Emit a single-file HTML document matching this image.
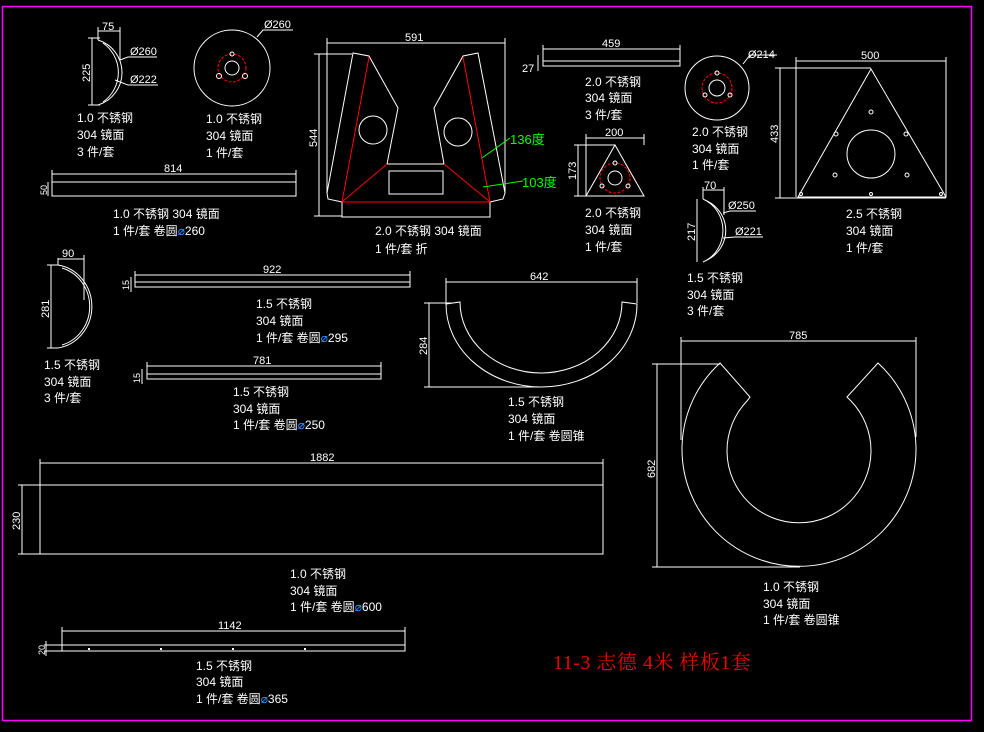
<!DOCTYPE html>
<html><head><meta charset="utf-8"><style>
html,body{margin:0;padding:0;background:#000;width:984px;height:732px;overflow:hidden}
svg{display:block}
text{font-family:"Liberation Sans","Noto Sans CJK SC",sans-serif;fill:#fff;font-size:12px}
.d{font-size:11px}
</style></head><body>
<svg width="984" height="732" viewBox="0 0 984 732" xmlns="http://www.w3.org/2000/svg">
<rect x="2.5" y="6.5" width="969" height="714" fill="none" stroke="#f0f" stroke-width="1.5"/>
<g fill="none" stroke="#fff" stroke-width="1">
<path d="M98,40 A34,34 0 0 1 98,105"/><path d="M103,43 A36,36 0 0 1 103,102"/>
<line x1="98" y1="27" x2="98" y2="40"/><line x1="120" y1="27" x2="120" y2="60"/><line x1="98" y1="31" x2="120" y2="31"/>
<line x1="92" y1="38" x2="92" y2="105"/><line x1="88" y1="38" x2="100" y2="38"/><line x1="88" y1="105" x2="100" y2="105"/>
<polyline points="120,60 128,57 157,57"/><polyline points="115,80 128,85 158,85"/>
<circle cx="232" cy="68" r="38"/><circle cx="232" cy="68" r="7"/>
<polyline points="257,37 263,30 293,30"/>
<rect x="52" y="182" width="244" height="14"/>
<line x1="52" y1="174" x2="296" y2="174"/><line x1="52" y1="170" x2="52" y2="182"/><line x1="296" y1="170" x2="296" y2="182"/>
<line x1="48" y1="182" x2="48" y2="196"/>
<polyline points="342,202 328,199 327,193 353,53 369,56 398,108 387,164 444,164 434,108 463,56 478,53 505,193 503,199 490,202"/>
<rect x="342" y="202" width="148" height="15"/>
<circle cx="373" cy="130" r="14"/><circle cx="458" cy="132" r="14"/>
<rect x="389" y="171" width="54" height="23"/>
<line x1="327" y1="43" x2="505" y2="43"/><line x1="327" y1="38" x2="327" y2="193"/><line x1="505" y1="38" x2="505" y2="193"/>
<line x1="319" y1="54" x2="319" y2="216"/><line x1="314" y1="54" x2="352" y2="54"/><line x1="314" y1="216" x2="342" y2="216"/>
<rect x="543" y="61" width="137" height="5"/>
<line x1="543" y1="49" x2="680" y2="49"/><line x1="543" y1="45" x2="543" y2="61"/><line x1="680" y1="45" x2="680" y2="61"/>
<line x1="538" y1="55" x2="538" y2="71"/>
<circle cx="717" cy="88" r="32"/><circle cx="717" cy="88" r="8"/>
<polyline points="743,64 750,55 777,55"/>
<polygon points="615,145 586,196 644,196"/><circle cx="615" cy="178" r="7"/>
<line x1="586" y1="138" x2="644" y2="138"/><line x1="586" y1="134" x2="586" y2="196"/><line x1="644" y1="134" x2="644" y2="145"/>
<line x1="578" y1="145" x2="578" y2="196"/><line x1="574" y1="145" x2="615" y2="145"/><line x1="574" y1="196" x2="586" y2="196"/>
<polygon points="871,69 798,197 946,197"/><circle cx="871" cy="154" r="24"/>
<circle cx="871" cy="112" r="2"/><circle cx="836" cy="134" r="2"/><circle cx="906" cy="134" r="2"/><circle cx="835" cy="175" r="2"/><circle cx="907" cy="175" r="2"/><circle cx="871" cy="194" r="1.5"/><circle cx="801" cy="194" r="1.5"/><circle cx="941" cy="194" r="1.5"/>
<line x1="796" y1="61" x2="946" y2="61"/><line x1="796" y1="57" x2="796" y2="197"/><line x1="946" y1="57" x2="946" y2="197"/>
<line x1="780" y1="68" x2="780" y2="198"/><line x1="775" y1="68" x2="871" y2="68"/><line x1="775" y1="198" x2="946" y2="198"/>
<path d="M703,199 A32,34 0 0 1 703,262"/><path d="M707,201 A34,33 0 0 1 707,260"/>
<line x1="703" y1="187" x2="703" y2="199"/><line x1="724" y1="187" x2="724" y2="215"/><line x1="703" y1="190" x2="724" y2="190"/>
<line x1="697" y1="199" x2="697" y2="262"/>
<polyline points="723,213 730,211 756,211"/><polyline points="723,238 735,237 763,237"/>
<path d="M58,265 A40,42 0 0 1 58,348"/><path d="M62,268 A38,40 0 0 1 62,345"/>
<line x1="58" y1="258" x2="58" y2="265"/><line x1="84" y1="255" x2="84" y2="300"/><line x1="58" y1="259" x2="84" y2="259"/>
<line x1="51" y1="265" x2="51" y2="348"/><line x1="47" y1="265" x2="58" y2="265"/><line x1="47" y1="348" x2="58" y2="348"/>
<rect x="135" y="282" width="275" height="5"/>
<line x1="135" y1="275" x2="410" y2="275"/><line x1="135" y1="271" x2="135" y2="282"/><line x1="410" y1="271" x2="410" y2="282"/>
<line x1="131" y1="277" x2="131" y2="292"/>
<rect x="147" y="374" width="234" height="5"/>
<line x1="147" y1="366" x2="381" y2="366"/><line x1="147" y1="362" x2="147" y2="374"/><line x1="381" y1="362" x2="381" y2="374"/>
<line x1="142" y1="369" x2="142" y2="384"/>
<path d="M446,304 L460,302 A81,71 0 0 0 622,302 L637,304 A95.5,83 0 0 1 446,304 Z"/>
<line x1="446" y1="282" x2="637" y2="282"/><line x1="446" y1="278" x2="446" y2="303"/><line x1="637" y1="278" x2="637" y2="303"/>
<line x1="429" y1="303" x2="429" y2="387"/><line x1="424" y1="303" x2="452" y2="303"/><line x1="424" y1="387" x2="540" y2="387"/>
<path d="M720,363 A117,117 0 1 0 878,363 L847,397 L851,401 A72,72 0 1 1 747,401 L750,397 Z"/>
<line x1="681" y1="341" x2="916" y2="341"/><line x1="681" y1="337" x2="681" y2="440"/><line x1="916" y1="337" x2="916" y2="437"/>
<line x1="657" y1="364" x2="657" y2="567"/><line x1="652" y1="364" x2="720" y2="364"/><line x1="652" y1="567" x2="800" y2="567"/>
<rect x="40" y="485" width="563" height="69"/>
<line x1="40" y1="463" x2="603" y2="463"/><line x1="40" y1="459" x2="40" y2="485"/><line x1="603" y1="459" x2="603" y2="485"/>
<line x1="22" y1="485" x2="22" y2="554"/><line x1="18" y1="485" x2="40" y2="485"/><line x1="18" y1="554" x2="40" y2="554"/>
<rect x="62" y="645" width="343" height="6"/>
<line x1="62" y1="631" x2="405" y2="631"/><line x1="62" y1="627" x2="62" y2="645"/><line x1="405" y1="627" x2="405" y2="645"/>
<line x1="46" y1="641" x2="46" y2="656"/><line x1="44" y1="645" x2="62" y2="645"/><line x1="44" y1="651" x2="62" y2="651"/>
</g>
<g fill="#fff"><rect x="88" y="648" width="2" height="2"/><rect x="160" y="648" width="2" height="2"/><rect x="232" y="648" width="2" height="2"/><rect x="304" y="648" width="2" height="2"/></g>
<g fill="none" stroke="#f00" stroke-width="1">
<circle cx="232" cy="68" r="14" stroke-dasharray="3,1.5"/>
<circle cx="615" cy="178" r="15" stroke-dasharray="3,1.5"/>
<circle cx="717" cy="88" r="15" stroke-dasharray="3,1.5"/>
<line x1="369" y1="57" x2="342" y2="202"/><line x1="387" y1="164" x2="342" y2="202"/>
<line x1="342" y1="202" x2="490" y2="202"/><line x1="444" y1="164" x2="490" y2="202"/><line x1="463" y1="57" x2="490" y2="202"/>
</g>
<g fill="none" stroke="#fff"><circle cx="232" cy="54" r="2"/><circle cx="219" cy="76" r="2.5"/><circle cx="245" cy="76" r="2.5"/>
<circle cx="615" cy="163" r="2"/><circle cx="602" cy="186" r="2"/><circle cx="628" cy="186" r="2"/>
<circle cx="717" cy="73" r="2"/><circle cx="705" cy="95" r="2"/><circle cx="730" cy="95" r="2"/></g>
<g stroke="#0f0" stroke-width="1"><line x1="482" y1="158" x2="510" y2="138"/><line x1="483" y1="187" x2="523" y2="181"/></g>
<text x="510" y="144" style="fill:#0f0;font-size:13px">136度</text>
<text x="522" y="187" style="fill:#0f0;font-size:13px">103度</text>
<text class="d" x="102" y="30">75</text>
<text class="d" x="130" y="55">Ø260</text><text class="d" x="130" y="83">Ø222</text>
<text class="d" transform="translate(90,82) rotate(-90)">225</text>
<text class="d" x="264" y="28">Ø260</text>
<text class="d" x="164" y="172">814</text>
<text class="d" style="font-size:9px" transform="translate(47,195) rotate(-90)">50</text>
<text class="d" x="405" y="41">591</text>
<text class="d" transform="translate(317,147) rotate(-90)">544</text>
<text class="d" x="602" y="47">459</text>
<text class="d" x="522" y="72">27</text>
<text class="d" x="748" y="58">Ø214</text>
<text class="d" x="605" y="136">200</text>
<text class="d" transform="translate(576,180) rotate(-90)">173</text>
<text class="d" x="861" y="59">500</text>
<text class="d" transform="translate(778,143) rotate(-90)">433</text>
<text class="d" x="704" y="189">70</text>
<text class="d" x="728" y="209">Ø250</text><text class="d" x="735" y="235">Ø221</text>
<text class="d" transform="translate(695,241) rotate(-90)">217</text>
<text class="d" x="62" y="257">90</text>
<text class="d" transform="translate(49,318) rotate(-90)">281</text>
<text class="d" x="263" y="273">922</text>
<text class="d" style="font-size:9px" transform="translate(129,290) rotate(-90)">15</text>
<text class="d" x="253" y="364">781</text>
<text class="d" style="font-size:9px" transform="translate(140,383) rotate(-90)">15</text>
<text class="d" x="530" y="280">642</text>
<text class="d" transform="translate(427,355) rotate(-90)">284</text>
<text class="d" x="789" y="339">785</text>
<text class="d" transform="translate(655,478) rotate(-90)">682</text>
<text class="d" x="310" y="461">1882</text>
<text class="d" transform="translate(20,530) rotate(-90)">230</text>
<text class="d" x="218" y="629">1142</text>
<text class="d" style="font-size:9px" transform="translate(45,655) rotate(-90)">20</text>
<text x="77" y="122">1.0 不锈钢</text><text x="77" y="139">304 镜面</text><text x="77" y="156">3 件/套</text>
<text x="206" y="123">1.0 不锈钢</text><text x="206" y="140">304 镜面</text><text x="206" y="157">1 件/套</text>
<text x="113" y="218">1.0 不锈钢 304 镜面</text><text x="113" y="235">1 件/套 卷圆<tspan style="fill:#39f">⌀</tspan>260</text>
<text x="375" y="235">2.0 不锈钢 304 镜面</text><text x="375" y="253">1 件/套 折</text>
<text x="585" y="86">2.0 不锈钢</text><text x="585" y="102">304 镜面</text><text x="585" y="119">3 件/套</text>
<text x="692" y="136">2.0 不锈钢</text><text x="692" y="153">304 镜面</text><text x="692" y="169">1 件/套</text>
<text x="585" y="217">2.0 不锈钢</text><text x="585" y="234">304 镜面</text><text x="585" y="251">1 件/套</text>
<text x="846" y="218">2.5 不锈钢</text><text x="846" y="235">304 镜面</text><text x="846" y="252">1 件/套</text>
<text x="687" y="282">1.5 不锈钢</text><text x="687" y="299">304 镜面</text><text x="687" y="315">3 件/套</text>
<text x="44" y="369">1.5 不锈钢</text><text x="44" y="386">304 镜面</text><text x="44" y="402">3 件/套</text>
<text x="256" y="308">1.5 不锈钢</text><text x="256" y="325">304 镜面</text><text x="256" y="342">1 件/套 卷圆<tspan style="fill:#39f">⌀</tspan>295</text>
<text x="233" y="396">1.5 不锈钢</text><text x="233" y="413">304 镜面</text><text x="233" y="429">1 件/套 卷圆<tspan style="fill:#39f">⌀</tspan>250</text>
<text x="508" y="406">1.5 不锈钢</text><text x="508" y="423">304 镜面</text><text x="508" y="440">1 件/套 卷圆锥</text>
<text x="290" y="578">1.0 不锈钢</text><text x="290" y="595">304 镜面</text><text x="290" y="611">1 件/套 卷圆<tspan style="fill:#39f">⌀</tspan>600</text>
<text x="763" y="591">1.0 不锈钢</text><text x="763" y="608">304 镜面</text><text x="763" y="624">1 件/套 卷圆锥</text>
<text x="196" y="670">1.5 不锈钢</text><text x="196" y="686">304 镜面</text><text x="196" y="703">1 件/套 卷圆<tspan style="fill:#39f">⌀</tspan>365</text>
<text x="553" y="669" style="fill:#e00;font-size:20px;letter-spacing:0.5px;font-family:'Liberation Serif','Noto Serif CJK SC',serif">11-3 志德 4米 样板1套</text>
</svg>
</body></html>
